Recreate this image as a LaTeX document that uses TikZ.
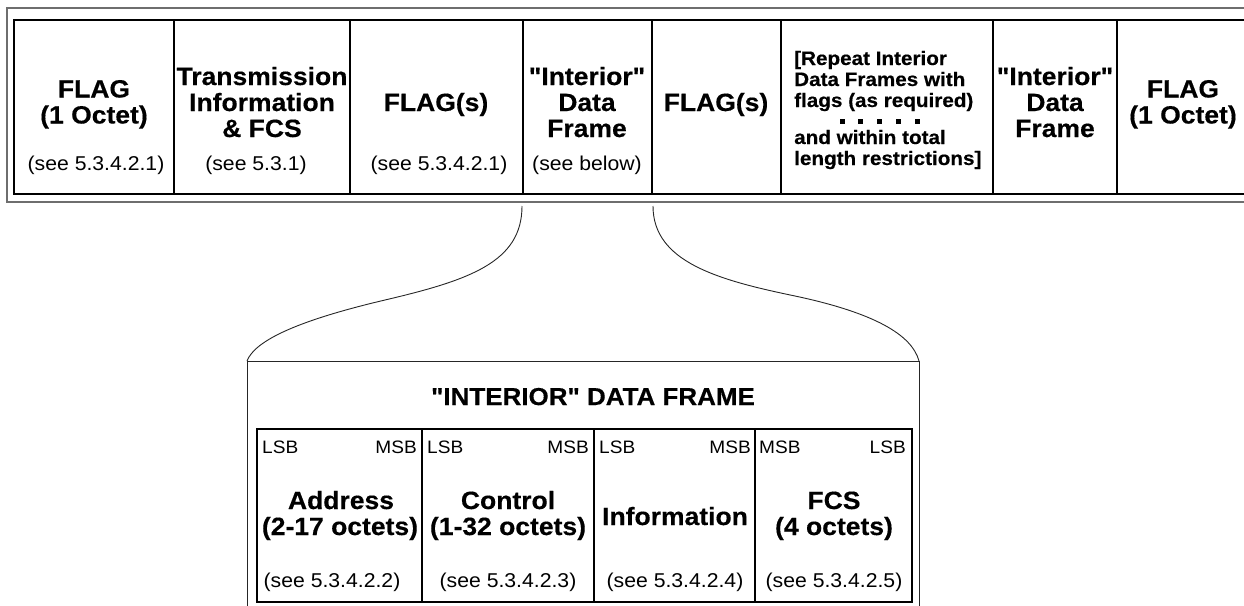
\documentclass[tikz,border=0pt]{standalone}
\usepackage{fontspec}
\newfontfamily\dgfont[FakeStretch=1.06,BoldFeatures={FakeBold=0.4}]{Liberation Sans}
\begin{document}
\begin{tikzpicture}[x=1pt,y=-1pt,
  bt/.style={font=\dgfont\bfseries\fontsize{25}{27}\selectfont,inner sep=0pt,anchor=base},
  rt/.style={font=\dgfont\fontsize{20}{22}\selectfont,inner sep=0pt,anchor=base},
  st/.style={font=\dgfont\bfseries\fontsize{19.5}{21.5}\selectfont,inner sep=0pt,anchor=base west},
  bb/.style={font=\dgfont\bfseries\fontsize{25}{27}\selectfont,inner sep=0pt,anchor=base},
  tt/.style={font=\dgfont\bfseries\fontsize{24.5}{26}\selectfont,inner sep=0pt,anchor=base},
  lm/.style={font=\dgfont\fontsize{18}{20}\selectfont,inner sep=0pt},
  outerline/.style={draw={rgb,255:red,110;green,110;blue,110},line width=1.4pt},
  thickline/.style={draw=black,line width=2.2pt},
  divline/.style={draw=black,line width=1.9pt},
  thinline/.style={draw=black!85,line width=0.9pt},
  dotsq/.style={fill=black}]
\useasboundingbox (0,0) rectangle (1244,605);

% ---- top frame ----
\draw[outerline] (7,8) rectangle (1280,202);
\draw[thickline] (14,20) rectangle (1280,194);
\foreach \x in {174,350,523,652,781,993,1117}
  \draw[divline] (\x,20) -- (\x,194);

% cell 1
\node[bt] (c1a) at (94,97.5) {FLAG};
\node[bt] (c1b) at (94,123.5) {(1 Octet)};
\node[rt] (c1c) at (96,170) {(see 5.3.4.2.1)};
% cell 2
\node[bt] (c2a) at (262,85) {Transmission};
\node[bt] (c2b) at (262,111) {Information};
\node[bt] (c2c) at (262,137) {\& FCS};
\node[rt] (c2d) at (256,170) {(see 5.3.1)};
% cell 3
\node[bt] (c3a) at (436,111) {FLAG(s)};
\node[rt] (c3b) at (439,170) {(see 5.3.4.2.1)};
% cell 4
\node[bt] (c4a) at (587,85) {"Interior"};
\node[bt] (c4b) at (587,111) {Data};
\node[bt] (c4c) at (587,137) {Frame};
\node[rt] (c4d) at (587,170) {(see below)};
% cell 5
\node[bt] (c5a) at (716,111) {FLAG(s)};
% cell 6
\node[st] (c6a) at (794,65) {[Repeat Interior};
\node[st] (c6b) at (794,86) {Data Frames with};
\node[st] (c6c) at (794,107) {flags (as required)};
\foreach \x in {842,860,879,898,917}
  \fill[dotsq] (\x-2.5,118.5) rectangle (\x+2.5,123.5);
\node[st] (c6e) at (794,144) {and within total};
\node[st] (c6f) at (794,165) {length restrictions]};
% cell 7
\node[bt] (c7a) at (1055,85) {"Interior"};
\node[bt] (c7b) at (1055,111) {Data};
\node[bt] (c7c) at (1055,137) {Frame};
% cell 8
\node[bt] (c8a) at (1183,97.5) {FLAG};
\node[bt] (c8b) at (1183,123.5) {(1 Octet)};

% ---- expansion curves ----
\coordinate (la) at (522,206);
\coordinate (lm) at (385,300);
\coordinate (lb) at (247,361);
\coordinate (ra) at (653,206);
\coordinate (rm) at (795,296);
\coordinate (rb) at (919,361);
\draw[thinline] (la) .. controls (522,262) and (470,280) .. (lm)
                     .. controls (300,320) and (255,340) .. (lb);
\draw[thinline] (ra) .. controls (653,262) and (718,280) .. (rm)
                     .. controls (875,313) and (912,335) .. (rb);
\draw[thinline] (247,620) -- (lb) -- (rb) -- (919,620);

% ---- interior data frame ----
\node[tt] (title) at (593,405) {"INTERIOR" DATA FRAME};
\draw[thickline,line width=2pt] (257,429) rectangle (912,602);
\foreach \x in {422,594,755}
  \draw[divline,line width=1.8pt] (\x,429) -- (\x,602);

\node[lm,anchor=base west] (a1) at (262,453) {LSB};
\node[lm,anchor=base east] (a2) at (417,453) {MSB};
\node[lm,anchor=base west] (b1) at (427,453) {LSB};
\node[lm,anchor=base east] (b2) at (589,453) {MSB};
\node[lm,anchor=base west] (i1) at (599,453) {LSB};
\node[lm,anchor=base east] (i2) at (751,453) {MSB};
\node[lm,anchor=base west] (f1) at (759,453) {MSB};
\node[lm,anchor=base east] (f2) at (906,453) {LSB};

\node[bb] (a3) at (341,509) {Address};
\node[bb] (a4) at (340,535) {(2-17 octets)};
\node[rt] (a5) at (332,587) {(see 5.3.4.2.2)};
\node[bb] (b3) at (508,509) {Control};
\node[bb] (b4) at (508,535) {(1-32 octets)};
\node[rt] (b5) at (508,587) {(see 5.3.4.2.3)};
\node[bb] (i3) at (675,525) {Information};
\node[rt] (i5) at (675,587) {(see 5.3.4.2.4)};
\node[bb] (f3) at (834,509) {FCS};
\node[bb] (f4) at (834,535) {(4 octets)};
\node[rt] (f5) at (834,587) {(see 5.3.4.2.5)};
\end{tikzpicture}
\end{document}
